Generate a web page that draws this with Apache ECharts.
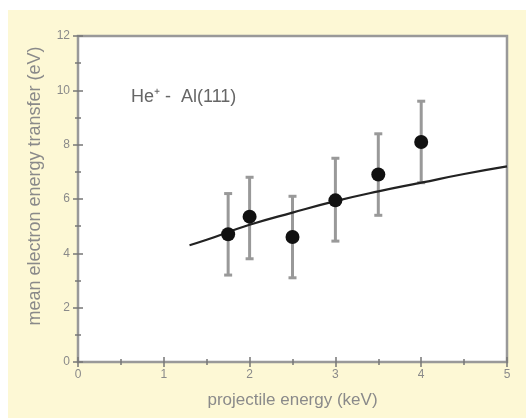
<!DOCTYPE html>
<html>
<head>
<meta charset="utf-8">
<script src="https://cdn.jsdelivr.net/npm/echarts@6/dist/echarts.min.js"></script>
<style>
  html, body { margin: 0; padding: 0; background: #fff; }
  #chart { width: 526px; height: 418px; }
</style>
</head>
<body>
<div id="chart"></div>
<script>
// measured points
var energy = [1.75, 2, 2.5, 3, 3.5, 4];
var transfer = [4.7, 5.35, 4.6, 5.95, 6.9, 8.1];
var errLow = [3.2, 3.8, 3.1, 4.45, 5.4, 6.6];
var errHigh = [6.2, 6.8, 6.1, 7.5, 8.4, 9.6];

// theory curve
var curveX = [1.3, 1.5, 2, 2.5, 3, 3.5, 4, 4.5, 5];
var curveY = [4.3, 4.5, 5.05, 5.5, 5.92, 6.28, 6.6, 6.92, 7.2];

var points = energy.map(function (x, i) { return [x, transfer[i]]; });
var bars = energy.map(function (x, i) { return [x, errLow[i], errHigh[i]]; });
var curve = curveX.map(function (x, i) { return [x, curveY[i]]; });

var grey = "#8a8a8a";
var font = "Liberation Sans";
var tickStyle = {
  show: true, inside: true, length: 5,
  lineStyle: { color: "#777", width: 1.5 }
};
var minorStyle = {
  show: true, splitNumber: 2, length: 3,
  lineStyle: { color: "#777", width: 1.5 }
};

var chart = echarts.init(document.getElementById("chart"));
chart.setOption({
  animation: false,
  backgroundColor: "#fff",
  graphic: [
    {
      type: "rect", z: -10,
      shape: { x: 8, y: 10, width: 518, height: 408 },
      style: { fill: "#fdf8d5" }
    },
    {
      type: "text", left: 131, top: 88,
      style: {
        text: "He⁺ -  Al(111)",
        font: "18px 'Liberation Sans', Arial, sans-serif",
        fill: "#666"
      }
    },
    {
      // y axis title sits a bit above the plot centre in the original
      type: "text", x: 35, y: 186, rotation: Math.PI / 2,
      style: {
        text: "mean electron energy transfer (eV)",
        font: "18px 'Liberation Sans', Arial, sans-serif",
        fill: grey, align: "center", verticalAlign: "middle"
      }
    }
  ],
  grid: {
    left: 78, right: 19, top: 36, bottom: 56,
    show: true, backgroundColor: "#fff",
    borderColor: "#999", borderWidth: 2.5
  },
  xAxis: [
    {
      type: "value", min: 0, max: 5, interval: 1,
      name: "projectile energy (keV)", nameLocation: "middle", nameGap: 30,
      nameTextStyle: { color: grey, fontSize: 17, fontFamily: font },
      axisLine: { show: false },
      axisTick: tickStyle, minorTick: minorStyle,
      axisLabel: { color: grey, fontSize: 12, fontFamily: font, margin: 7 },
      splitLine: { show: false }
    },
    {
      type: "value", min: 0, max: 5, interval: 1, position: "top",
      axisLine: { show: false },
      axisTick: tickStyle, minorTick: minorStyle,
      axisLabel: { show: false }, splitLine: { show: false }
    }
  ],
  yAxis: [
    {
      type: "value", min: 0, max: 12, interval: 2,
      axisLine: { show: false },
      axisTick: tickStyle, minorTick: minorStyle,
      axisLabel: { color: grey, fontSize: 12, fontFamily: font, margin: 8 },
      splitLine: { show: false }
    },
    {
      type: "value", min: 0, max: 12, interval: 2, position: "right",
      axisLine: { show: false },
      axisTick: tickStyle, minorTick: minorStyle,
      axisLabel: { show: false }, splitLine: { show: false }
    }
  ],
  series: [
    {
      type: "line", data: curve, smooth: true, showSymbol: false,
      lineStyle: { color: "#222", width: 2.2 }, z: 3
    },
    {
      type: "custom", data: bars, z: 2,
      renderItem: function (params, api) {
        var x = api.value(0);
        var lo = api.coord([x, api.value(1)]);
        var hi = api.coord([x, api.value(2)]);
        var style = { stroke: "#999", lineWidth: 3 };
        var cap = 4;
        return {
          type: "group",
          children: [
            { type: "line", shape: { x1: lo[0], y1: lo[1], x2: hi[0], y2: hi[1] }, style: style },
            { type: "line", shape: { x1: lo[0] - cap, y1: lo[1], x2: lo[0] + cap, y2: lo[1] }, style: style },
            { type: "line", shape: { x1: hi[0] - cap, y1: hi[1], x2: hi[0] + cap, y2: hi[1] }, style: style }
          ]
        };
      }
    },
    {
      type: "scatter", data: points, symbolSize: 14, z: 4,
      itemStyle: { color: "#111", opacity: 1 }
    }
  ]
});
</script>
</body>
</html>
